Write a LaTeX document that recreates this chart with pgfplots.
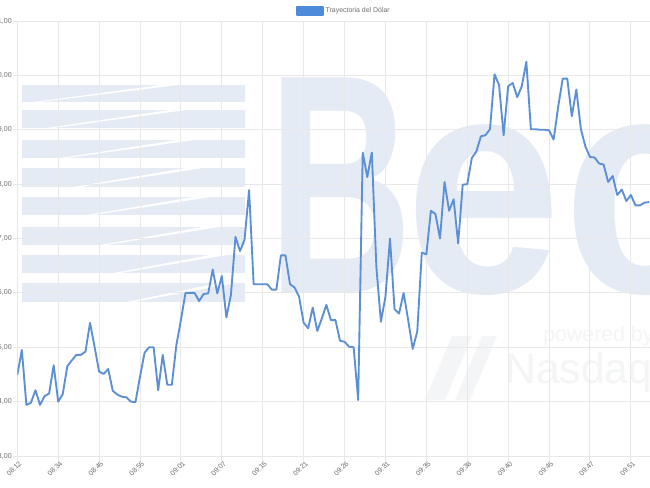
\documentclass[border=0pt]{standalone}
\usepackage{fontspec}
\setmainfont{Liberation Sans}
\usepackage{pgfplots}
\usepackage{pgfplotstable}
\pgfplotsset{compat=1.18}
\definecolor{lineblue}{RGB}{92,143,212}
\definecolor{boxblue}{RGB}{78,138,218}
\definecolor{gridc}{RGB}{232,232,232}
\definecolor{labc}{RGB}{110,110,110}
\definecolor{wm}{RGB}{229,235,244}
\definecolor{wm2}{RGB}{244,245,247}

\pgfplotstableread{
i v
0 4.49
1 4.95
2 3.94
3 3.98
4 4.21
5 3.94
6 4.10
7 4.15
8 4.67
9 4.00
10 4.14
11 4.65
12 4.76
13 4.86
14 4.86
15 4.92
16 5.45
17 5.01
18 4.55
19 4.51
20 4.60
21 4.20
22 4.13
23 4.09
24 4.08
25 4.00
26 3.99
27 4.46
28 4.90
29 5.00
30 5.00
31 4.21
32 4.86
33 4.31
34 4.31
35 5.04
36 5.50
37 6.00
38 6.00
39 6.00
40 5.85
41 5.98
42 5.99
43 6.43
44 5.99
45 6.31
46 5.55
47 5.96
48 7.03
49 6.77
50 6.98
51 7.89
52 6.16
53 6.16
54 6.16
55 6.16
56 6.06
57 6.06
58 6.69
59 6.69
60 6.16
61 6.10
62 5.93
63 5.45
64 5.35
65 5.73
66 5.30
67 5.53
68 5.78
69 5.50
70 5.50
71 5.12
72 5.10
73 5.01
74 5.00
75 4.03
76 8.58
77 8.13
78 8.58
79 6.48
80 5.47
81 5.93
82 7.00
83 5.70
84 5.62
85 6.00
86 5.50
87 4.97
88 5.29
89 6.74
90 6.71
91 7.51
92 7.45
93 7.00
94 8.04
95 7.51
96 7.72
97 6.91
98 7.99
99 8.00
100 8.48
101 8.60
102 8.88
103 8.90
104 9.01
105 10.02
106 9.82
107 8.90
108 9.80
109 9.86
110 9.60
111 9.80
112 10.25
113 9.01
114 9.01
115 9.00
116 9.00
117 8.99
118 8.82
119 9.42
120 9.94
121 9.94
122 9.25
123 9.74
124 9.01
125 8.69
126 8.50
127 8.49
128 8.38
129 8.36
130 8.04
131 8.15
132 7.80
133 7.90
134 7.69
135 7.80
136 7.61
137 7.61
138 7.66
139 7.67
}\dolar

\begin{document}
\begin{tikzpicture}
\useasboundingbox (0,0) rectangle (487.5pt,-365.25pt);
\clip (0,0) rectangle (487.5pt,-365.25pt);
\fill[white] (0,0) rectangle (487.5pt,-365.25pt);
\begin{scope}[x=0.75pt,y=-0.75pt]
  % watermark stripes
  \foreach \t/\b/\k in {85/102/0,110/128/1,140/158/2,168/187/3,197/215/4,227/245/5,255/273/6,283/302/7} {
    \fill[wm] (22,\t) rectangle (245,\b);
    \fill[white] ({30+13.5*\k},\b+0.5) -- ({165+8*\k},\t-0.5) -- ({182+8*\k},\t-0.5) -- ({36+13.5*\k},\b+0.5) -- cycle;
  }
  % watermark letters
  \node[text=wm, anchor=base west, inner sep=0pt, xscale=0.64,
        font=\fontsize{234pt}{234pt}\selectfont\bfseries] at (268,292) {B};
  \node[text=wm, anchor=base west, inner sep=0pt, xscale=0.9,
        font=\fontsize{234pt}{234pt}\selectfont\bfseries] at (405,292) {e};
  \node[text=wm, anchor=base west, inner sep=0pt, xscale=0.9,
        font=\fontsize{234pt}{234pt}\selectfont\bfseries] at (563,292) {c};
  \node[text=wm2, anchor=base west, inner sep=0pt,
        font=\fontsize{16pt}{16pt}\selectfont] at (543,341) {powered by};
  \node[text=wm2, anchor=base west, inner sep=0pt,
        font=\fontsize{32pt}{32pt}\selectfont] at (505,383) {Nasdaq};
  \fill[wm2] (425,400) -- (452,336) -- (472,336) -- (445,400) -- cycle;
  \fill[wm2] (455,400) -- (482,336) -- (497,336) -- (470,400) -- cycle;
\end{scope}
\begin{axis}[
  at={(12.975pt,-342pt)}, anchor=south west,
  scale only axis, width=474.5pt, height=326.25pt,
  xmin=0, xmax=139.2, ymin=3, ymax=11,
  xtick={0,9,...,135},
  xticklabels={08:12,08:34,08:45,08:55,09:01,09:07,09:15,09:21,09:26,09:31,09:35,09:38,09:40,09:45,09:47,09:51},
  ytick={3,4,...,11},
  yticklabels={{3,00},{4,00},{5,00},{6,00},{7,00},{8,00},{9,00},{10,00},{11,00}},
  grid=major, major grid style={draw=gridc, line width=0.75pt},
  axis line style={draw=none},
  tick align=outside, major tick length=3.5pt,
  tick style={draw=gridc, line width=0.75pt},
  xtick pos=bottom, ytick pos=left,
  ticklabel style={font=\fontsize{5.3pt}{6pt}\selectfont, text=labc},
  xticklabel style={rotate=45, anchor=north east, inner sep=0pt, xshift=0.8pt, yshift=-0.5pt},
  yticklabel style={anchor=east, inner sep=0pt, xshift=-0.5pt},
  legend style={at={(0.516,1.023)}, anchor=center, draw=none, fill=none,
    font=\fontsize{5.2pt}{6pt}\selectfont, text=labc, inner sep=0pt,
    nodes={inner sep=1.5pt}},
  legend image code/.code={\fill[boxblue] (0pt,-2.75pt) rectangle (19.5pt,2.75pt);},
]
\addplot[lineblue, line width=1.4pt, line join=round, mark=none] table[x=i, y=v] {\dolar};
\addlegendentry{Trayectoria del Dólar}
\end{axis}
\end{tikzpicture}
\end{document}
